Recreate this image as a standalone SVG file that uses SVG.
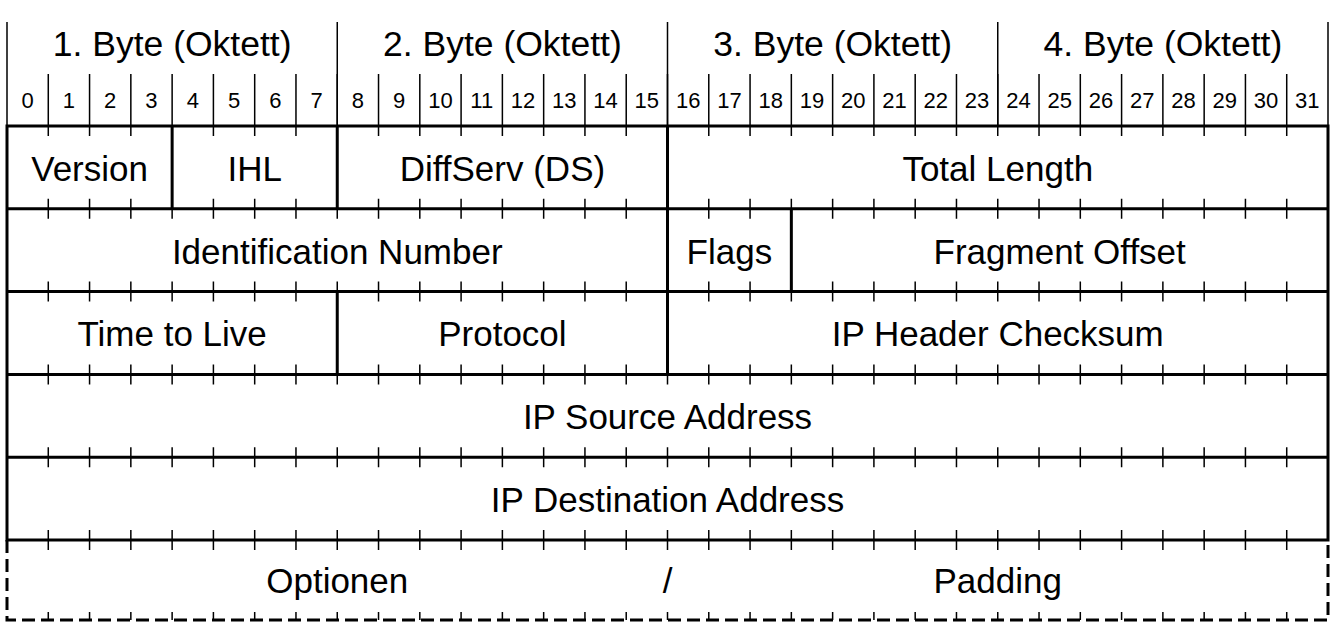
<svg xmlns="http://www.w3.org/2000/svg" xmlns:xlink="http://www.w3.org/1999/xlink" width="1337" height="623" viewBox="0 0 1337 623">
<style>
text{font-family:"Liberation Sans",Arial,sans-serif;fill:#000;text-anchor:middle}
.hdr{font-size:35.5px}
.bit{font-size:22px}
.fld{font-size:35px}
.thin{stroke:#000;stroke-width:1.5;fill:none}
.thick{stroke:#000;stroke-width:3;fill:none}
.dash{stroke:#000;stroke-width:3;fill:none;stroke-dasharray:13 6}
</style>
<defs>
<path id="ticks" class="thin" d="M48.28 -10V10M89.56 -10V10M130.84 -10V10M172.13 -10V10M213.41 -10V10M254.69 -10V10M295.97 -10V10M337.25 -10V10M378.53 -10V10M419.81 -10V10M461.09 -10V10M502.38 -10V10M543.66 -10V10M584.94 -10V10M626.22 -10V10M667.5 -10V10M708.78 -10V10M750.06 -10V10M791.34 -10V10M832.63 -10V10M873.91 -10V10M915.19 -10V10M956.47 -10V10M997.75 -10V10M1039.03 -10V10M1080.31 -10V10M1121.59 -10V10M1162.88 -10V10M1204.16 -10V10M1245.44 -10V10M1286.72 -10V10"/>
</defs>
<rect width="1337" height="623" fill="#fff"/>
<g id="header">
<path class="thin" d="M7 22V126M337.25 22V126M667.5 22V126M997.75 22V126M1328 22V126"/>
<path class="thin" d="M48.28 74V136M89.56 74V136M130.84 74V136M172.13 74V136M213.41 74V136M254.69 74V136M295.97 74V136M337.25 74V136M378.53 74V136M419.81 74V136M461.09 74V136M502.38 74V136M543.66 74V136M584.94 74V136M626.22 74V136M667.5 74V136M708.78 74V136M750.06 74V136M791.34 74V136M832.63 74V136M873.91 74V136M915.19 74V136M956.47 74V136M997.75 74V136M1039.03 74V136M1080.31 74V136M1121.59 74V136M1162.88 74V136M1204.16 74V136M1245.44 74V136M1286.72 74V136"/>
<text class="hdr" x="172.13" y="56">1. Byte (Oktett)</text>
<text class="hdr" x="502.38" y="56">2. Byte (Oktett)</text>
<text class="hdr" x="832.63" y="56">3. Byte (Oktett)</text>
<text class="hdr" x="1162.88" y="56">4. Byte (Oktett)</text>
<g>
<text class="bit" x="27.64" y="108">0</text><text class="bit" x="68.92" y="108">1</text><text class="bit" x="110.2" y="108">2</text><text class="bit" x="151.48" y="108">3</text><text class="bit" x="192.77" y="108">4</text><text class="bit" x="234.05" y="108">5</text><text class="bit" x="275.33" y="108">6</text><text class="bit" x="316.61" y="108">7</text><text class="bit" x="357.89" y="108">8</text><text class="bit" x="399.17" y="108">9</text><text class="bit" x="440.45" y="108">10</text><text class="bit" x="481.73" y="108">11</text><text class="bit" x="523.02" y="108">12</text><text class="bit" x="564.3" y="108">13</text><text class="bit" x="605.58" y="108">14</text><text class="bit" x="646.86" y="108">15</text><text class="bit" x="688.14" y="108">16</text><text class="bit" x="729.42" y="108">17</text><text class="bit" x="770.7" y="108">18</text><text class="bit" x="811.98" y="108">19</text><text class="bit" x="853.27" y="108">20</text><text class="bit" x="894.55" y="108">21</text><text class="bit" x="935.83" y="108">22</text><text class="bit" x="977.11" y="108">23</text><text class="bit" x="1018.39" y="108">24</text><text class="bit" x="1059.67" y="108">25</text><text class="bit" x="1100.95" y="108">26</text><text class="bit" x="1142.23" y="108">27</text><text class="bit" x="1183.52" y="108">28</text><text class="bit" x="1224.8" y="108">29</text><text class="bit" x="1266.08" y="108">30</text><text class="bit" x="1307.36" y="108">31</text>
</g>
</g>
<g id="grid">
<path class="thick" d="M7 126H1328M7 208.8H1328M7 291.6H1328M7 374.4H1328M7 457.2H1328M7 540H1328M7 124.5V541.5M1328 124.5V541.5"/>
<use xlink:href="#ticks" href="#ticks" transform="translate(0,208.8)"/>
<use xlink:href="#ticks" href="#ticks" transform="translate(0,291.6)"/>
<use xlink:href="#ticks" href="#ticks" transform="translate(0,374.4)"/>
<use xlink:href="#ticks" href="#ticks" transform="translate(0,457.2)"/>
<use xlink:href="#ticks" href="#ticks" transform="translate(0,540)"/>
<path class="dash" d="M7 540V620H1328V540"/>
<path class="thin" d="M48.28 612V620M89.56 612V620M130.84 612V620M172.13 612V620M213.41 612V620M254.69 612V620M295.97 612V620M337.25 612V620M378.53 612V620M419.81 612V620M461.09 612V620M502.38 612V620M543.66 612V620M584.94 612V620M626.22 612V620M667.5 612V620M708.78 612V620M750.06 612V620M791.34 612V620M832.63 612V620M873.91 612V620M915.19 612V620M956.47 612V620M997.75 612V620M1039.03 612V620M1080.31 612V620M1121.59 612V620M1162.88 612V620M1204.16 612V620M1245.44 612V620M1286.72 612V620"/>
</g>
<g id="row1">
<path class="thick" d="M172.13 126V208.8M337.25 126V208.8M667.5 126V208.8"/>
<text class="fld" x="89.6" y="181">Version</text>
<text class="fld" x="254.7" y="181">IHL</text>
<text class="fld" x="502.4" y="181">DiffServ (DS)</text>
<text class="fld" x="997.75" y="181">Total Length</text>
</g>
<g id="row2">
<path class="thick" d="M667.5 208.8V291.6M791.34 208.8V291.6"/>
<text class="fld" x="337.25" y="263.5">Identification Number</text>
<text class="fld" x="729.4" y="263.5">Flags</text>
<text class="fld" x="1059.7" y="263.5">Fragment Offset</text>
</g>
<g id="row3">
<path class="thick" d="M337.25 291.6V374.4M667.5 291.6V374.4"/>
<text class="fld" x="172.13" y="346.3">Time to Live</text>
<text class="fld" x="502.4" y="346.3">Protocol</text>
<text class="fld" x="997.75" y="346.3">IP Header Checksum</text>
</g>
<g id="row4">
<text class="fld" x="667.5" y="429">IP Source Address</text>
</g>
<g id="row5">
<text class="fld" x="667.5" y="511.8">IP Destination Address</text>
</g>
<g id="row6">
<text class="fld" x="337.25" y="593">Optionen</text>
<text class="fld" x="667.5" y="593">/</text>
<text class="fld" x="997.75" y="593">Padding</text>
</g>
</svg>
